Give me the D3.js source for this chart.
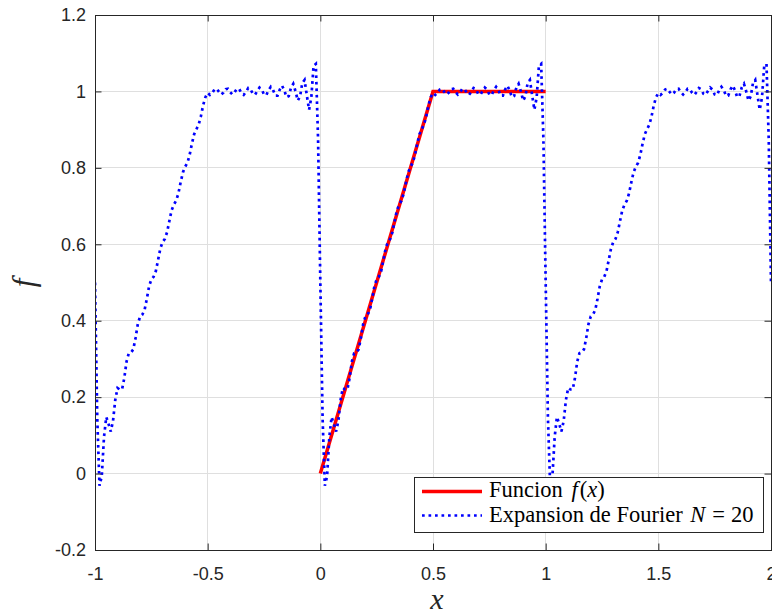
<!DOCTYPE html>
<html>
<head>
<meta charset="utf-8">
<script src="https://cdn.jsdelivr.net/npm/d3@7"></script>
<style>
  body { margin: 0; background: #fff; }
</style>
</head>
<body>
<div id="root"></div>
<script>
const width = 772;
const height = 616;

// ticks
const xTicks = [-1, -0.5, 0, 0.5, 1, 1.5, 2];
const xTickLabels = ["-1", "-0.5", "0", "0.5", "1", "1.5", "2"];
const yTicks = [-0.2, 0, 0.2, 0.4, 0.6, 0.8, 1, 1.2];
const yTickLabels = ["-0.2", "0", "0.2", "0.4", "0.6", "0.8", "1", "1.2"];

// f(x) on one period
const funcX = [0, 0.5, 1];
const funcY = [0, 1, 1];

const periodStarts = [-1, 0, 1];
const sampleStep = 0.01;
const fourierPeriod = [
  0.500, 0.146, -0.032, -0.007, 0.096, 0.148, 0.130, 0.110, 0.138, 0.193,
  0.224, 0.220, 0.220, 0.250, 0.293, 0.315, 0.317, 0.325, 0.355, 0.391,
  0.411, 0.416, 0.428, 0.457, 0.490, 0.508, 0.515, 0.530, 0.559, 0.589,
  0.606, 0.614, 0.632, 0.661, 0.689, 0.704, 0.714, 0.733, 0.762, 0.788,
  0.803, 0.813, 0.834, 0.863, 0.888, 0.901, 0.913, 0.935, 0.964, 0.985,
  0.996, 0.991, 0.996, 1.005, 1.007, 0.999, 0.992, 0.997, 1.006, 1.007,
  0.998, 0.992, 0.998, 1.007, 1.006, 0.996, 0.991, 0.999, 1.009, 1.006,
  0.994, 0.991, 1.001, 1.010, 1.005, 0.992, 0.990, 1.003, 1.012, 1.004,
  0.989, 0.989, 1.005, 1.015, 1.003, 0.985, 0.988, 1.010, 1.020, 1.000,
  0.976, 0.987, 1.022, 1.030, 0.990, 0.952, 0.984, 1.067, 1.072, 0.874,
  0.500
];

const axisColor = "#262626";
const tickFont = "'Liberation Sans', Arial, sans-serif";
const mathFont = "'Liberation Serif', 'Times New Roman', serif";

const x = d3.scaleLinear().domain([-1, 2]).range([95, 771]);
const y = d3.scaleLinear().domain([-0.2, 1.2]).range([550, 15]);

const svg = d3.select("#root").append("svg")
  .attr("width", width)
  .attr("height", height);

svg.append("defs").append("clipPath")
  .attr("id", "plot-clip")
  .append("rect")
  .attr("x", x(-1))
  .attr("y", y(1.2))
  .attr("width", x(2) - x(-1))
  .attr("height", y(-0.2) - y(1.2));

// grid
const grid = svg.append("g")
  .attr("stroke", "#dfdfdf")
  .attr("stroke-width", 1)
  .attr("shape-rendering", "crispEdges");

grid.selectAll(".gx")
  .data(xTicks)
  .enter()
  .append("line")
  .attr("class", "gx")
  .attr("x1", d => x(d))
  .attr("x2", d => x(d))
  .attr("y1", y(-0.2))
  .attr("y2", y(1.2));

grid.selectAll(".gy")
  .data(yTicks)
  .enter()
  .append("line")
  .attr("class", "gy")
  .attr("x1", x(-1))
  .attr("x2", x(2))
  .attr("y1", d => y(d))
  .attr("y2", d => y(d));

// lines
const line = d3.line()
  .x(d => x(d[0]))
  .y(d => y(d[1]));

const funcPoints = funcX.map((d, i) => [d, funcY[i]]);

const fourierPoints = [];
periodStarts.forEach((p, pi) => {
  fourierPeriod.forEach((v, j) => {
    if (pi > 0 && j === 0) return;
    fourierPoints.push([p + j * sampleStep, v]);
  });
});

const plot = svg.append("g").attr("clip-path", "url(#plot-clip)");

plot.append("path")
  .datum(funcPoints)
  .attr("d", line)
  .attr("fill", "none")
  .attr("stroke", "#ff0000")
  .attr("stroke-width", 3.5);

plot.append("path")
  .datum(fourierPoints)
  .attr("d", line)
  .attr("fill", "none")
  .attr("stroke", "#0000ff")
  .attr("stroke-width", 2.7)
  .attr("stroke-dasharray", "2.7,3.8");

// axes (ticks point inward, box on)
function styleAxis(g) {
  g.select(".domain").remove();
  g.selectAll("line").attr("stroke", axisColor);
  g.selectAll("text")
    .attr("fill", axisColor)
    .attr("font-family", tickFont)
    .attr("font-size", 18);
}

svg.append("g")
  .attr("transform", `translate(0,${y(-0.2)})`)
  .call(d3.axisBottom(x).tickValues(xTicks).tickFormat((d, i) => xTickLabels[i])
    .tickSizeInner(-6.5).tickSizeOuter(0).tickPadding(17))
  .call(styleAxis);

svg.append("g")
  .attr("transform", `translate(${x(-1)},0)`)
  .call(d3.axisLeft(y).tickValues(yTicks).tickFormat((d, i) => yTickLabels[i])
    .tickSizeInner(-6.5).tickSizeOuter(0).tickPadding(9))
  .call(styleAxis);

svg.append("g")
  .attr("transform", `translate(0,${y(1.2)})`)
  .call(d3.axisTop(x).tickValues(xTicks).tickFormat(() => "")
    .tickSizeInner(-6.5).tickSizeOuter(0))
  .call(styleAxis);

svg.append("g")
  .attr("transform", `translate(${x(2)},0)`)
  .call(d3.axisRight(y).tickValues(yTicks).tickFormat(() => "")
    .tickSizeInner(-6.5).tickSizeOuter(0))
  .call(styleAxis);

svg.append("rect")
  .attr("x", x(-1))
  .attr("y", y(1.2))
  .attr("width", x(2) - x(-1))
  .attr("height", y(-0.2) - y(1.2))
  .attr("fill", "none")
  .attr("stroke", axisColor)
  .attr("stroke-width", 1)
  .attr("shape-rendering", "crispEdges");

// axis labels
svg.append("text")
  .attr("x", 437)
  .attr("y", 609)
  .attr("text-anchor", "middle")
  .attr("font-family", mathFont)
  .attr("font-style", "italic")
  .attr("font-size", 30)
  .attr("fill", axisColor)
  .text("x");

svg.append("text")
  .attr("transform", "translate(34,283) rotate(-90)")
  .attr("text-anchor", "middle")
  .attr("font-family", mathFont)
  .attr("font-style", "italic")
  .attr("font-size", 31)
  .attr("fill", axisColor)
  .text("f");

// legend
const legend = svg.append("g").attr("id", "legend");

legend.append("rect")
  .attr("x", 414)
  .attr("y", 477)
  .attr("width", 349)
  .attr("height", 55)
  .attr("fill", "#fff")
  .attr("stroke", axisColor)
  .attr("stroke-width", 1)
  .attr("shape-rendering", "crispEdges");

legend.append("line")
  .attr("x1", 422).attr("x2", 482)
  .attr("y1", 491.5).attr("y2", 491.5)
  .attr("stroke", "#ff0000")
  .attr("stroke-width", 3.5);

legend.append("line")
  .attr("x1", 422).attr("x2", 482)
  .attr("y1", 515.5).attr("y2", 515.5)
  .attr("stroke", "#0000ff")
  .attr("stroke-width", 2.7)
  .attr("stroke-dasharray", "2.7,3.8");

const t1 = legend.append("text")
  .attr("x", 489).attr("y", 497)
  .attr("font-family", mathFont)
  .attr("font-size", 22.5)
  .attr("fill", "#000");
t1.append("tspan").text("Funcion ");
t1.append("tspan").attr("dx", 3).attr("font-style", "italic").text("f");
t1.append("tspan").attr("dx", 2).text("(");
t1.append("tspan").attr("font-style", "italic").text("x");
t1.append("tspan").text(")");

const t2 = legend.append("text")
  .attr("x", 489).attr("y", 522)
  .attr("font-family", mathFont)
  .attr("font-size", 22.5)
  .attr("fill", "#000");
t2.append("tspan").text("Expansion de Fourier ");
t2.append("tspan").attr("dx", 2).attr("font-style", "italic").text("N");
t2.append("tspan").attr("dx", 7).text("=");
t2.append("tspan").attr("dx", 6).text("20");
</script>
</body>
</html>
